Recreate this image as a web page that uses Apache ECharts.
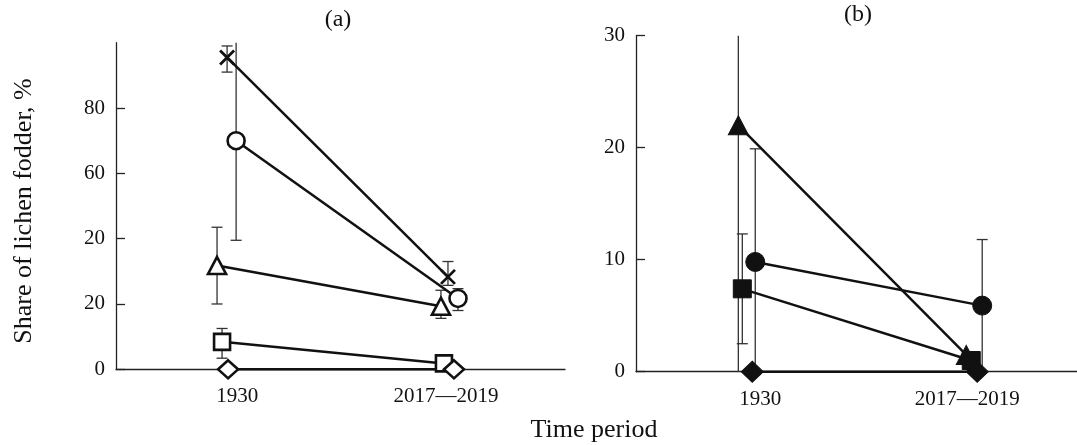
<!DOCTYPE html>
<html>
<head>
<meta charset="utf-8">
<script src="https://cdn.jsdelivr.net/npm/echarts@6/dist/echarts.min.js"></script>
<style>html,body{margin:0;padding:0;background:#fff;}#c{width:1077px;height:445px;}</style>
</head>
<body>
<div id="c"></div>
<script>
// ---- data ----
const categories = ['1930', '2017\u20142019'];
const yTickValuesA = [0, 20, 40, 60, 80];
const yTickLabelsA = ['0', '20', '20', '60', '80'];
const yTickValuesB = [0, 10, 20, 30];
const yTickLabelsB = ['0', '10', '20', '30'];

// panel (a) – open symbols
const crossA = [95.5, 28.3];
const crossA_err = [[91, 99], [25.7, 33]];
const circleA = [70, 21.7];
const circleA_err = [[39.5, 100], [18, 24.7]];
const triangleA = [31.8, 19.3];
const triangleA_err = [[20, 43.5], [15.6, 24.2]];
const squareA = [8.4, 1.8];
const squareA_err = [[3.4, 12.5], null];
const diamondA = [0, 0];
const diamondA_err = [null, null];

// panel (b) – filled symbols
const triangleB = [22, 1.5];
const triangleB_err = [[0, 30], null];
const circleB = [9.8, 5.9];
const circleB_err = [[0, 19.9], [0, 11.8]];
const squareB = [7.4, 1.0];
const squareB_err = [[2.5, 12.3], null];
const diamondB = [0, 0];
const diamondB_err = [null, null];

// ---- layout / style (not data) ----
const FONT = 'Liberation Serif';
const PX_PER_UNIT = 208;
const dodgeA = { triangle: [-20, -5], cross: [-10, 2], circle: [-1, 12], square: [-15, -2], diamond: [-9, 8] };
const dodgeB = { triangle: [-22, -1], circle: [-5, 15], square: [-18, 4], diamond: [-8, 10] };
const CROSS = 'path://M0,0L10,10M0,10L10,0';
const symbolOf = { cross: CROSS, circle: 'circle', triangle: 'triangle', square: 'rect', diamond: 'diamond' };
const sizeOpen = { cross: 14, circle: 17, triangle: [18, 17], square: 16, diamond: [20, 18] };
const sizeFilled = { circle: 19, triangle: [20, 19], square: 18, diamond: [22, 21] };

const chart = echarts.init(document.getElementById('c'));

function xPos(i, dodgePx) { return (i + 1) + dodgePx / PX_PER_UNIT; }

function makeSeries(panel, key, values, errs, dodge, open, yMax) {
  const d = dodge[key];
  const pts = values.map((v, i) => [xPos(i, d[i]), v]);
  const errData = [];
  errs.forEach((e, i) => { if (e) errData.push([xPos(i, d[i]), e[0], e[1]]); });
  const list = [];
  if (errData.length) {
    list.push({
      type: 'custom', xAxisIndex: panel, yAxisIndex: panel, z: 2, silent: true,
      data: errData,
      renderItem: function (params, api) {
        const x = api.value(0), lo = api.value(1), hi = api.value(2);
        const pLo = api.coord([x, lo]), pHi = api.coord([x, hi]);
        const cw = 5.5;
        const style = { stroke: '#333', lineWidth: 1.3 };
        const children = [{ type: 'line', shape: { x1: pLo[0], y1: pLo[1], x2: pHi[0], y2: pHi[1] }, style: style }];
        if (hi < yMax) children.push({ type: 'line', shape: { x1: pHi[0] - cw, y1: pHi[1], x2: pHi[0] + cw, y2: pHi[1] }, style: style });
        if (lo > 0) children.push({ type: 'line', shape: { x1: pLo[0] - cw, y1: pLo[1], x2: pLo[0] + cw, y2: pLo[1] }, style: style });
        return { type: 'group', children: children };
      }
    });
  }
  const isCross = key === 'cross';
  list.push({
    type: 'line', xAxisIndex: panel, yAxisIndex: panel, z: 3,
    data: pts, clip: false,
    symbol: symbolOf[key], symbolSize: open ? sizeOpen[key] : sizeFilled[key],
    showAllSymbol: true,
    lineStyle: { color: '#111', width: 2.5 },
    itemStyle: isCross ? { color: 'rgba(0,0,0,0)', borderColor: '#111', borderWidth: 2.8 }
      : (open ? { color: '#fff', borderColor: '#111', borderWidth: 2.6 } : { color: '#111', borderColor: '#111', borderWidth: 1 }),
    emphasis: { disabled: true },
    animation: false
  });
  return list;
}

function yAxis(grid, max, tickVals, tickLabels) {
  return {
    type: 'value', gridIndex: grid, min: 0, max: max,
    splitLine: { show: false },
    axisLine: { show: true, lineStyle: { color: '#222', width: 1.3 } },
    axisTick: { show: true, inside: true, length: 9, customValues: tickVals, lineStyle: { color: '#222', width: 1.3 } },
    axisLabel: {
      customValues: tickVals,
      formatter: function (v) { const k = tickVals.indexOf(v); return k >= 0 ? tickLabels[k] : ''; },
      fontFamily: FONT, fontSize: 21, color: '#111', margin: 11
    }
  };
}
function xAxis(grid, min, max) {
  return {
    type: 'value', gridIndex: grid, min: min, max: max,
    splitLine: { show: false },
    axisLine: { show: true, onZero: false, lineStyle: { color: '#222', width: 1.3 } },
    axisTick: { show: false },
    axisLabel: {
      customValues: [1, 2],
      formatter: function (v) { const k = Math.round(v) - 1; return (Math.abs(v - Math.round(v)) < 1e-6 && categories[k]) ? categories[k] : ''; },
      fontFamily: FONT, fontSize: 21, color: '#111', margin: 17
    }
  };
}

const series = [].concat(
  makeSeries(0, 'triangle', triangleA, triangleA_err, dodgeA, true, 100),
  makeSeries(0, 'cross', crossA, crossA_err, dodgeA, true, 100),
  makeSeries(0, 'circle', circleA, circleA_err, dodgeA, true, 100),
  makeSeries(0, 'square', squareA, squareA_err, dodgeA, true, 100),
  makeSeries(0, 'diamond', diamondA, diamondA_err, dodgeA, true, 100),
  makeSeries(1, 'triangle', triangleB, triangleB_err, dodgeB, false, 30),
  makeSeries(1, 'circle', circleB, circleB_err, dodgeB, false, 30),
  makeSeries(1, 'square', squareB, squareB_err, dodgeB, false, 30),
  makeSeries(1, 'diamond', diamondB, diamondB_err, dodgeB, false, 30)
);

chart.setOption({
  animation: false,
  backgroundColor: '#fff',
  graphic: [
    { type: 'text', x: 338, y: 20, style: { text: '(a)', fontFamily: FONT, fontSize: 24, fill: '#111', align: 'center', verticalAlign: 'middle' } },
    { type: 'text', x: 858, y: 15, style: { text: '(b)', fontFamily: FONT, fontSize: 24, fill: '#111', align: 'center', verticalAlign: 'middle' } },
    { type: 'text', x: 24, y: 211, rotation: Math.PI / 2, style: { text: 'Share of lichen fodder, %', fontFamily: FONT, fontSize: 26, fill: '#111', align: 'center', verticalAlign: 'middle' } },
    { type: 'text', x: 594, y: 430, style: { text: 'Time period', fontFamily: FONT, fontSize: 26, fill: '#111', align: 'center', verticalAlign: 'middle' } }
  ],
  grid: [
    { left: 116, top: 42.7, width: 449, height: 326.6 },
    { left: 636, top: 35.7, width: 441, height: 336 }
  ],
  xAxis: [xAxis(0, 0.42, 2.57), xAxis(1, 0.4, 2.53)],
  yAxis: [yAxis(0, 100, yTickValuesA, yTickLabelsA), yAxis(1, 30, yTickValuesB, yTickLabelsB)],
  series: series
});
</script>
</body>
</html>
